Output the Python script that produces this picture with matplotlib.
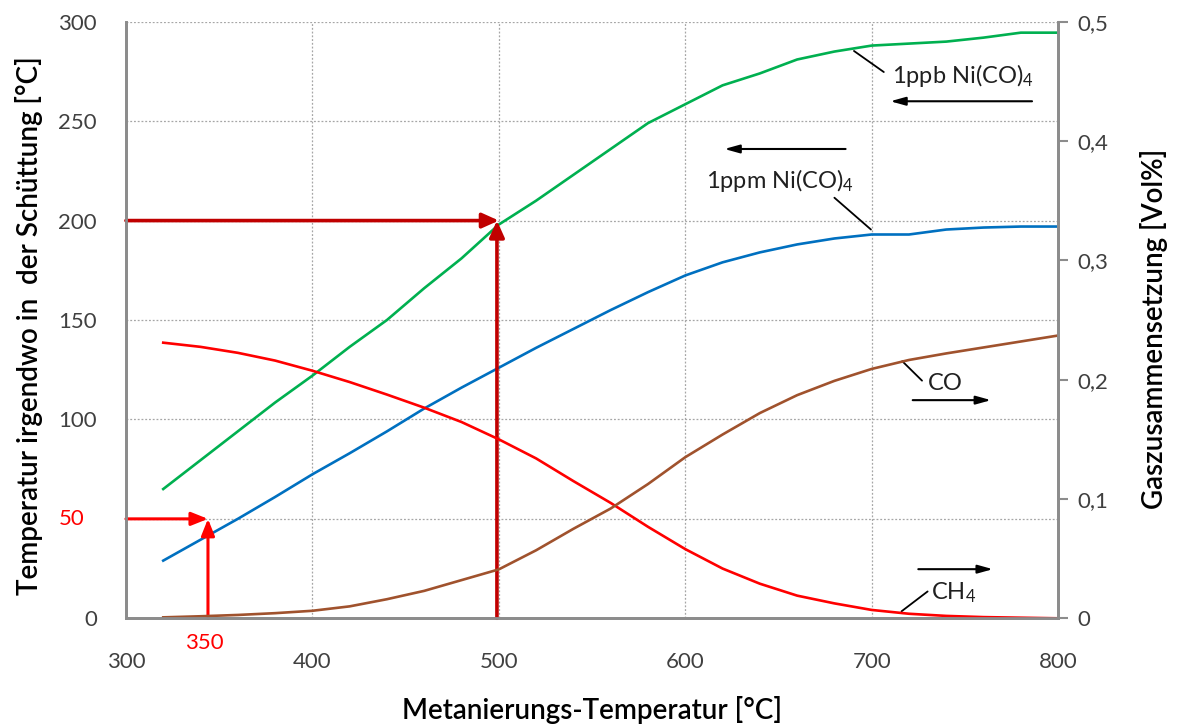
import numpy as np
import matplotlib
matplotlib.use("Agg")
import matplotlib.pyplot as plt
from matplotlib.ticker import FuncFormatter

plt.rcParams['font.family'] = ['Lato', 'DejaVu Sans']
plt.rcParams['mathtext.default'] = 'regular'

# Metanierungs-Temperatur [°C]
temp = [320, 340, 360, 380, 400, 420, 440, 460, 480, 500, 520, 540, 560,
        580, 600, 620, 640, 660, 680, 700, 720, 740, 760, 780, 800]

# left axis: temperature in the bed [°C]
ppb_1 = [65, 79.5, 94, 108.5, 122, 136.5, 150, 166, 181, 198, 210, 223, 236,
         249, 258.5, 268, 274, 281, 285, 288, 289, 290, 292, 294.5, 294.5]
ppm_1 = [29, 39.5, 50, 61, 72.4, 83, 94, 105.5, 116, 126, 136, 145.5, 155,
         164, 172.4, 179, 184, 188, 191, 193, 193, 195.5, 196.5, 197, 197]

# right axis: gas composition [Vol%]
ch4 = [0.231, 0.2275, 0.2225, 0.216, 0.2075, 0.198, 0.1875, 0.1765, 0.1645,
       0.15, 0.134, 0.115, 0.0967, 0.0767, 0.058, 0.0417, 0.029, 0.019,
       0.0125, 0.007, 0.0038, 0.002, 0.001, 0.0005, 0.0]
co = [0.0008, 0.0017, 0.0028, 0.0043, 0.0063, 0.010, 0.016, 0.023, 0.032,
      0.041, 0.057, 0.075, 0.092, 0.1125, 0.135, 0.154, 0.172, 0.187, 0.199,
      0.209, 0.2165, 0.222, 0.227, 0.232, 0.237]

x_ticks = [300, 400, 500, 600, 700, 800]
y_ticks = [0, 50, 100, 150, 200, 250, 300]
y_tick_labels = ['0', '', '100', '150', '200', '250', '300']
y2_ticks = [0, 0.1, 0.2, 0.3, 0.4, 0.5]

grey = '#8c8c8c'
txt = '#404040'

fig = plt.figure(figsize=(11.77, 7.24), dpi=100)
ax = fig.add_axes([0.107, 0.146, 0.792, 0.824])
ax2 = ax.twinx()

ax.plot(temp, ppb_1, color='#00B050', lw=1.9)
ax.plot(temp, ppm_1, color='#0070C0', lw=1.9)
ax2.plot(temp, ch4, color='#FF0000', lw=1.9)
ax2.plot(temp, co, color='#A0522D', lw=1.9)

ax.set_xlim(300, 800)
ax.set_ylim(0, 300)
ax2.set_ylim(0, 0.5)
ax.set_xticks(x_ticks)
ax.set_yticks(y_ticks)
ax.set_yticklabels(y_tick_labels)
ax2.set_yticks(y2_ticks)
ax2.yaxis.set_major_formatter(FuncFormatter(lambda v, p: f"{v:g}".replace('.', ',')))

ax.grid(True, color='#a6a6a6', linestyle=(0, (1.5, 1.5)), linewidth=0.9)
for a in (ax, ax2):
    for s in a.spines.values():
        s.set_color(grey)
        s.set_linewidth(2)
    a.spines['top'].set_visible(False)
ax.tick_params(axis='x', length=0, pad=24, labelsize=16, labelcolor=txt)
ax.tick_params(axis='y', length=0, pad=21, labelsize=16, labelcolor=txt)
ax2.tick_params(axis='y', length=7, width=1.5, color=grey, pad=7,
                labelsize=16, labelcolor=txt)

ax.set_xlabel("Metanierungs-Temperatur [°C]", fontsize=20, fontweight='semibold')
ax.xaxis.set_label_coords(0.5, -0.131)
ax.set_ylabel("Temperatur irgendwo in  der Schüttung [°C]", fontsize=20,
              fontweight='semibold')
ax.yaxis.set_label_coords(-0.089, 0.49)
ax2.set_ylabel("Gaszusammensetzung [Vol%]", fontsize=20, fontweight='semibold')
ax2.yaxis.set_label_coords(1.088, 0.485)

# reading arrows
dark = '#C00000'
ax.annotate('', xy=(500, 200), xytext=(300, 200),
            arrowprops=dict(arrowstyle='-|>,head_length=1.0,head_width=0.45',
                            color=dark, lw=2.6, shrinkA=0, shrinkB=0))
ax.annotate('', xy=(499, 200), xytext=(499, 0),
            arrowprops=dict(arrowstyle='-|>,head_length=1.0,head_width=0.45',
                            color=dark, lw=2.6, shrinkA=0, shrinkB=0))
ax.annotate('', xy=(344, 50), xytext=(300, 50),
            arrowprops=dict(arrowstyle='-|>,head_length=1.0,head_width=0.4',
                            color='#FF0000', lw=2.2, shrinkA=0, shrinkB=0))
ax.annotate('', xy=(344, 50), xytext=(344, 0),
            arrowprops=dict(arrowstyle='-|>,head_length=1.0,head_width=0.4',
                            color='#FF0000', lw=2.2, shrinkA=0, shrinkB=0))
ax.text(271, 50, "50", color='#FF0000', fontsize=16, ha='center', va='center',
        clip_on=False)
ax.text(342, -12.5, "350", color='#FF0000', fontsize=16, ha='center',
        va='center', clip_on=False)

# curve labels with leader lines and direction arrows
black_arrow = dict(arrowstyle='-|>,head_length=0.9,head_width=0.25',
                   color='black', lw=1.5, shrinkA=0, shrinkB=0)
leader = dict(arrowstyle='-', color='black', lw=1.3, shrinkA=0, shrinkB=0)

ax.text(711, 273, "1ppb Ni(CO)$_4$", fontsize=17, color='#202020',
        ha='left', va='center')
ax.annotate('', xy=(690.5, 285.3), xytext=(706.5, 274.7), arrowprops=leader)
ax.annotate('', xy=(710, 260), xytext=(786, 260), arrowprops=black_arrow)

ax.text(611, 220, "1ppm Ni(CO)$_4$", fontsize=17, color='#202020',
        ha='left', va='center')
ax.annotate('', xy=(699.6, 195.5), xytext=(680, 211.5), arrowprops=leader)
ax.annotate('', xy=(621, 236), xytext=(686, 236), arrowprops=black_arrow)

ax.text(730, 118, "CO", fontsize=17, color='#202020', ha='left', va='center')
ax.annotate('', xy=(716.4, 129.3), xytext=(727, 119.5), arrowprops=leader)
ax.annotate('', xy=(764, 109.7), xytext=(722, 109.7), arrowprops=black_arrow)

ax.text(732, 13, "CH$_4$", fontsize=17, color='#202020', ha='left', va='center')
ax.annotate('', xy=(716, 3.5), xytext=(730, 13.5), arrowprops=leader)
ax.annotate('', xy=(765, 24.7), xytext=(725, 24.7), arrowprops=black_arrow)

plt.savefig("out.png", dpi=100)
